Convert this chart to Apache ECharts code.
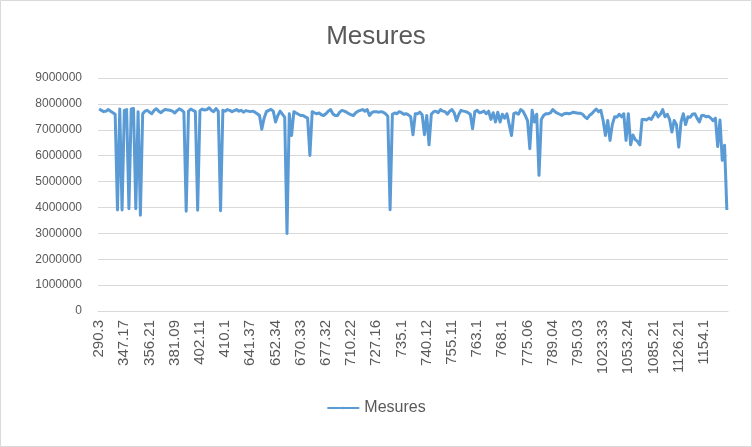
<!DOCTYPE html>
<html><head><meta charset="utf-8">
<script src="https://cdn.jsdelivr.net/npm/echarts@6/dist/echarts.min.js"></script>
<style>html,body{margin:0;padding:0;background:#fff}#c{width:752px;height:447px}</style>
</head><body><div id="c"></div>
<script>
const chartTitle = 'Mesures';
const seriesName = 'Mesures';
const tickLabels = ['290.3','347.17','356.21','381.09','402.11','410.1','641.37','652.34','670.33','677.32','710.22','727.16','735.1','740.12','755.11','763.1','768.1','775.06','789.04','795.03','1023.33','1053.24','1085.21','1126.21','1154.1'];
const labelStep = 11;
const yMin = 0, yMax = 9000000, yStep = 1000000;
const values = [
7800000,7750000,7700000,7720000,7780000,7720000,7660000,7600000,
3900000,7800000,3900000,7750000,7780000,3950000,7800000,7820000,3950000,7700000,3700000,
7620000,7720000,7750000,7680000,7620000,7750000,7810000,7720000,7660000,7740000,7790000,7760000,7750000,7720000,7650000,7740000,7810000,7760000,7680000,
3850000,
7720000,7800000,7750000,7700000,
3890000,
7740000,7800000,7760000,7780000,7850000,7750000,7700000,7820000,7720000,
3870000,
7750000,7720000,7780000,7750000,7700000,7740000,7780000,7720000,7750000,7680000,7740000,7720000,7700000,7720000,7680000,7620000,7550000,
7020000,7450000,7700000,7750000,7790000,7720000,7300000,7550000,7720000,7600000,7490000,2990000,7620000,6780000,7700000,7650000,7600000,7550000,7550000,7500000,7450000,6010000,7700000,
7650000,7620000,7650000,7580000,7550000,7620000,7720000,7780000,7620000,7550000,7550000,7680000,7750000,7720000,7680000,7620000,7580000,7550000,7660000,7720000,7750000,7780000,7720000,7780000,7550000,7660000,7700000,7700000,7680000,7700000,7680000,7620000,7520000,
3910000,
7600000,7650000,7620000,7700000,7660000,7600000,7620000,7580000,7500000,
6810000,7620000,7620000,7680000,7580000,6810000,7550000,6420000,7600000,
7700000,7720000,7660000,7780000,7720000,7700000,7600000,7720000,7780000,7650000,7350000,7600000,7750000,7720000,7700000,7660000,7600000,
7040000,7700000,7750000,7660000,7680000,7720000,7620000,7720000,7400000,7660000,7300000,7680000,7300000,7600000,7450000,7620000,7200000,6780000,7620000,7660000,7600000,7780000,7720000,7550000,7350000,6270000,7750000,7300000,7600000,5240000,7400000,7550000,7620000,
7620000,7650000,7780000,7700000,7640000,7600000,7560000,7620000,7640000,7620000,7640000,7680000,7660000,7640000,7640000,7600000,7500000,7430000,7550000,7620000,7720000,7800000,7700000,7750000,
7360000,6780000,7360000,6590000,7200000,7500000,7490000,7600000,7500000,7620000,6590000,7620000,6420000,6800000,6620000,6550000,6420000,
7400000,7400000,7380000,7450000,7400000,7550000,7680000,7500000,7600000,7780000,7500000,7600000,7400000,
6910000,7360000,7200000,6330000,7300000,7620000,7200000,7500000,7480000,7600000,7620000,7450000,7300000,7550000,7550000,7500000,7520000,7450000,7350000,7450000,6350000,7380000,5820000,6400000,3900000
];
const categories = values.map((v, i) => String(i));

const chart = echarts.init(document.getElementById('c'), null, {renderer: 'canvas'});
const font = "'Liberation Sans', Arial, sans-serif";
chart.setOption({
  animation: false,
  backgroundColor: '#ffffff',
  graphic: [{type: 'rect', shape: {x: 0.5, y: 0.5, width: 751, height: 446}, style: {fill: 'none', stroke: '#d9d9d9', lineWidth: 1}, silent: true}],
  title: {text: chartTitle, left: 'center', top: 19, textStyle: {fontFamily: font, fontSize: 26, fontWeight: 'normal', color: '#595959'}},
  legend: {data: [seriesName], bottom: 26, left: 'center', itemWidth: 32, itemHeight: 3, itemGap: 10,
    textStyle: {fontFamily: font, fontSize: 16, color: '#595959'}},
  grid: {left: 98, right: 24, top: 78, bottom: 136, containLabel: false},
  xAxis: {type: 'category', data: categories, boundaryGap: true,
    axisLine: {show: true, lineStyle: {color: '#d9d9d9', width: 1}},
    axisTick: {show: false},
    axisLabel: {interval: labelStep - 1, rotate: 90, margin: 9, fontFamily: font, fontSize: 15, color: '#595959',
      formatter: (v, i) => (i % labelStep === 0 ? tickLabels[i / labelStep] : '')},
    splitLine: {show: false}},
  yAxis: {type: 'value', min: yMin, max: yMax, interval: yStep,
    axisLine: {show: false}, axisTick: {show: false},
    axisLabel: {margin: 16, fontFamily: font, fontSize: 12, color: '#595959', formatter: v => String(v)},
    splitLine: {lineStyle: {color: '#d9d9d9', width: 1}}},
  series: [{name: seriesName, type: 'line', data: values, symbol: 'none', showSymbol: false,
    lineStyle: {color: '#5b9bd5', width: 3, join: 'round'}, itemStyle: {color: '#5b9bd5'}}]
});
</script></body></html>
